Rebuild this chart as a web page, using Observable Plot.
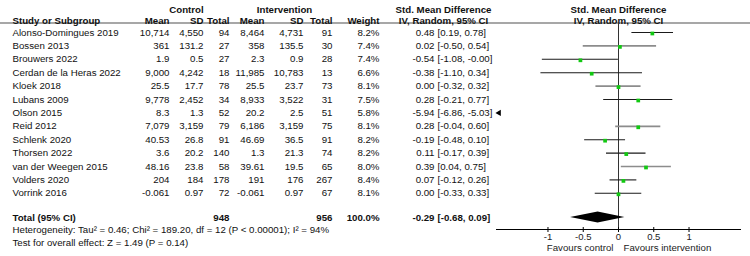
<!DOCTYPE html>
<html>
<head>
<meta charset="utf-8">
<script src="https://cdn.jsdelivr.net/npm/d3@7"></script>
<script src="https://cdn.jsdelivr.net/npm/@observablehq/plot@0.6"></script>
<style>
  html, body { margin: 0; padding: 0; background: #fff; }
</style>
</head>
<body>
<div id="chart"></div>
<script>
// ---------- data ----------
const studies = ["Alonso-Domingues 2019","Bossen 2013","Brouwers 2022","Cerdan de la Heras 2022","Kloek 2018","Lubans 2009","Olson 2015","Reid 2012","Schlenk 2020","Thorsen 2022","van der Weegen 2015","Volders 2020","Vorrink 2016"];
const ctrlMean = ["10,714","361","1.9","9,000","25.5","9,778","8.3","7,079","40.53","3.6","48.16","204","-0.061"];
const ctrlSD   = ["4,550","131.2","0.5","4,242","17.7","2,452","1.3","3,159","26.8","20.2","23.8","184","0.97"];
const ctrlN    = [94,27,27,18,78,34,52,79,91,140,58,178,72];
const intMean  = ["8,464","358","2.3","11,985","25.5","8,933","20.2","6,186","46.69","1.3","39.61","191","-0.061"];
const intSD    = ["4,731","135.5","0.9","10,783","23.7","3,522","2.5","3,159","36.5","21.3","19.5","176","0.97"];
const intN     = [91,30,28,13,73,31,51,75,91,74,65,267,67];
const weight   = [8.2,7.4,7.4,6.6,8.1,7.5,5.8,8.1,8.2,8.2,8.0,8.4,8.1];
const smd      = [0.48,0.02,-0.54,-0.38,0.00,0.28,-5.94,0.28,-0.19,0.11,0.39,0.07,0.00];
const ciLow    = [0.19,-0.50,-1.08,-1.10,-0.32,-0.21,-6.86,-0.04,-0.48,-0.17,0.04,-0.12,-0.33];
const ciHigh   = [0.78,0.54,-0.001,0.34,0.32,0.77,-5.03,0.60,0.10,0.39,0.75,0.26,0.33];

const totalLabel = "Total (95% CI)";
const totalCtrlN = 948;
const totalIntN = 956;
const totalWeight = 100.0;
const totalSmd = -0.29;
const totalLow = -0.68;
const totalHigh = 0.09;

const footnotes = [
  "Heterogeneity: Tau\u00B2 = 0.46; Chi\u00B2 = 189.20, df = 12 (P < 0.00001); I\u00B2 = 94%",
  "Test for overall effect: Z = 1.49 (P = 0.14)"
];
const xTicks = [-1, -0.5, 0, 0.5, 1];
const favoursLabels = ["Favours control", "Favours intervention"];
const groupHeaders = ["Control", "Intervention", "Std. Mean Difference", "Std. Mean Difference"];
const colHeaders = ["Study or Subgroup", "Mean", "SD", "Total", "Mean", "SD", "Total", "Weight", "IV, Random, 95% CI", "IV, Random, 95% CI"];

// ---------- layout / style ----------
const W = 750, H = 256;
const mL = 496, mR = 10, mT = 24, mB = 27;
const xDomain = [-1.73, 1.73];
const totalGap = 1.8;           // extra spacing (in rows) before total
const rowY0 = 32, rowStep = 13.4;
const col = {study: 12, ctrlMean: 169, ctrlSD: 203, ctrlN: 229, intMean: 264, intSD: 303, intN: 332, weight: 379, est: 434, ci: 437, ctrlHead: 186, intHead: 284, smdHead: 443};
const softRows = new Set([1, 4, 7, 10]);   // rendered as soft grey lines in the reference
const ink = "#111";
const green = "#12c812";
const fs = 9.7;

const f2 = v => v.toFixed(2);
const rows = studies.map((s, i) => ({
  i, study: s, ctrlMean: ctrlMean[i], ctrlSD: ctrlSD[i], ctrlN: ctrlN[i],
  intMean: intMean[i], intSD: intSD[i], intN: intN[i],
  weight: weight[i].toFixed(1) + "%",
  smd: smd[i], lo: ciLow[i], hi: ciHigh[i],
  est: f2(smd[i]), ci: `[${f2(ciLow[i])}, ${f2(ciHigh[i])}]`
}));
const totalY = studies.length - 1 + totalGap;
const total = [{
  i: totalY, study: totalLabel, ctrlN: totalCtrlN, intN: totalIntN,
  weight: totalWeight.toFixed(1) + "%", est: f2(totalSmd), ci: `[${f2(totalLow)}, ${f2(totalHigh)}]`
}];
const diamond = [
  {y: totalY - 0.41, x1: totalSmd, x2: totalSmd},
  {y: totalY, x1: totalLow, x2: totalHigh},
  {y: totalY + 0.41, x1: totalSmd, x2: totalSmd}
];

const dxOf = px => px - mL;
const colText = (data, key, px, anchor, extra = {}) =>
  Plot.text(data, {y: "i", text: key, frameAnchor: "left", dx: dxOf(px), textAnchor: anchor, fill: ink, ...extra});
const head = (txt, px, anchor, dy) =>
  Plot.text([txt], {frameAnchor: "top-left", dx: dxOf(px), dy, textAnchor: anchor, fontWeight: "bold", fill: ink});

const inRange = d => d.hi >= xDomain[0] && d.lo <= xDomain[1];

const chart = Plot.plot({
  width: W, height: H,
  marginLeft: mL, marginRight: mR, marginTop: mT, marginBottom: mB,
  style: {fontFamily: "'Liberation Sans', Arial, sans-serif", fontSize: fs + "px", background: "#fff"},
  x: {domain: xDomain, label: null},
  y: {type: "linear", domain: [0, totalY], range: [rowY0, rowY0 + rowStep * totalY], axis: null},
  marks: [
    // header underline
    Plot.frame({anchor: "top", insetLeft: -mL, insetRight: -mR, dy: -1.5, stroke: "#8a8a8a", strokeWidth: 1.6}),
    // group headers
    head(groupHeaders[0], col.ctrlHead, "middle", -18.5),
    head(groupHeaders[1], col.intHead, "middle", -18.5),
    head(groupHeaders[2], col.smdHead, "middle", -18.5),
    Plot.text([groupHeaders[3]], {frameAnchor: "top", dy: -18.5, fontWeight: "bold", fill: ink}),
    // column headers
    head(colHeaders[0], col.study, "start", -7.5),
    head(colHeaders[1], col.ctrlMean, "end", -7.5),
    head(colHeaders[2], col.ctrlSD, "end", -7.5),
    head(colHeaders[3], col.ctrlN, "end", -7.5),
    head(colHeaders[4], col.intMean, "end", -7.5),
    head(colHeaders[5], col.intSD, "end", -7.5),
    head(colHeaders[6], col.intN, "end", -7.5),
    head(colHeaders[7], col.weight, "end", -7.5),
    head(colHeaders[8], col.smdHead, "middle", -7.5),
    Plot.text([colHeaders[9]], {frameAnchor: "top", dy: -7.5, fontWeight: "bold", fill: ink}),
    // study rows
    colText(rows, "study", col.study, "start"),
    colText(rows, "ctrlMean", col.ctrlMean, "end"),
    colText(rows, "ctrlSD", col.ctrlSD, "end"),
    colText(rows, "ctrlN", col.ctrlN, "end"),
    colText(rows, "intMean", col.intMean, "end"),
    colText(rows, "intSD", col.intSD, "end"),
    colText(rows, "intN", col.intN, "end"),
    colText(rows, "weight", col.weight, "end"),
    colText(rows, "est", col.est, "end"),
    colText(rows, "ci", col.ci, "start"),
    // total row
    colText(total, "study", col.study, "start", {fontWeight: "bold"}),
    colText(total, "ctrlN", col.ctrlN, "end", {fontWeight: "bold"}),
    colText(total, "intN", col.intN, "end", {fontWeight: "bold"}),
    colText(total, "weight", col.weight, "end", {fontWeight: "bold"}),
    colText(total, "est", col.est, "end", {fontWeight: "bold"}),
    colText(total, "ci", col.ci, "start", {fontWeight: "bold"}),
    // footnotes
    Plot.text(footnotes, {frameAnchor: "bottom-left", dx: dxOf(col.study), textAnchor: "start", fill: ink,
      filter: (d, k) => k === 0, dy: 3}),
    Plot.text(footnotes, {frameAnchor: "bottom-left", dx: dxOf(col.study), textAnchor: "start", fill: ink,
      filter: (d, k) => k === 1, dy: 16}),
    // zero line
    Plot.ruleX([0], {stroke: "#333", strokeWidth: 1}),
    // confidence intervals
    Plot.ruleY(rows.filter(inRange), {
      y: "i",
      x1: d => Math.max(d.lo, xDomain[0]),
      x2: d => Math.min(d.hi, xDomain[1]),
      stroke: d => softRows.has(d.i) ? "#8c8c8c" : "#1a1a1a",
      strokeWidth: d => softRows.has(d.i) ? 1.7 : 1.1
    }),
    // out-of-range arrow
    Plot.dot(rows.filter(d => d.hi < xDomain[0]), {x: () => xDomain[0], y: "i", symbol: "triangle", rotate: -90, r: 2.3, fill: "#000", stroke: "none", dx: 2.5}),
    // point estimates
    Plot.dot(rows.filter(d => d.smd >= xDomain[0] && d.smd <= xDomain[1]), {x: "smd", y: "i", symbol: "square", r: 2.1, fill: green, stroke: "none", dy: 1}),
    // pooled diamond
    Plot.areaX(diamond, {y: "y", x1: "x1", x2: "x2", fill: "#000", curve: "linear"}),
    // x axis
    Plot.frame({anchor: "bottom", stroke: "#000", strokeWidth: 1}),
    Plot.axisX({ticks: xTicks, tickFormat: d => String(d), tickSize: 5, dy: -2, tickPadding: 0.5, stroke: "#000", fill: "#222", fontSize: 9.5, label: null}),
    Plot.text([favoursLabels[0]], {frameAnchor: "bottom", textAnchor: "end", dx: -5, dy: 21.5, fill: "#222"}),
    Plot.text([favoursLabels[1]], {frameAnchor: "bottom", textAnchor: "start", dx: 5, dy: 21.5, fill: "#222"})
  ]
});
document.getElementById("chart").appendChild(chart);
</script>
</body>
</html>
